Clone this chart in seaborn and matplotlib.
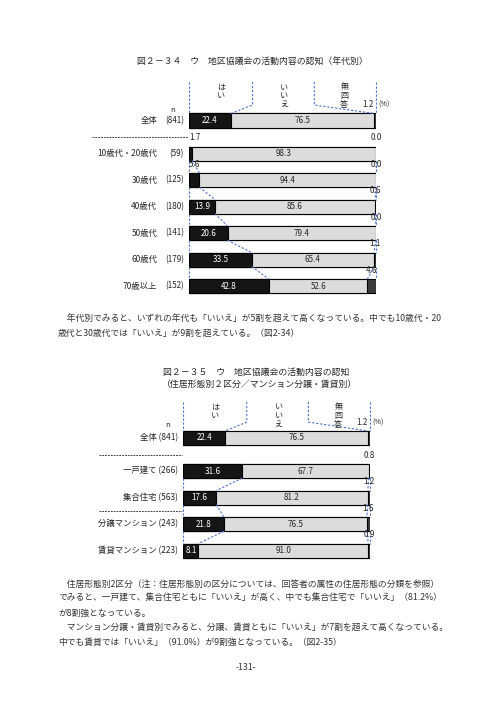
import numpy as np
import pandas as pd
import seaborn as sns
import matplotlib.pyplot as plt

# 図2-34 年代別
age_labels = ["全体", "10歳代・20歳代", "30歳代", "40歳代", "50歳代", "60歳代", "70歳以上"]
age_n = ["(841)", "(59)", "(125)", "(180)", "(141)", "(179)", "(152)"]
age_yes = [22.4, 1.7, 5.6, 13.9, 20.6, 33.5, 42.8]
age_no = [76.5, 98.3, 94.4, 85.6, 79.4, 65.4, 52.6]
age_na = [1.2, 0.0, 0.0, 0.6, 0.0, 1.1, 4.6]

# 図2-35 住居形態別
house_labels = ["全体", "一戸建て", "集合住宅", "分譲マンション", "賃貸マンション"]
house_n = ["(841)", "(266)", "(563)", "(243)", "(223)"]
house_yes = [22.4, 31.6, 17.6, 21.8, 8.1]
house_no = [76.5, 67.7, 81.2, 76.5, 91.0]
house_na = [1.2, 0.8, 1.2, 1.6, 0.9]

answers = ["はい", "いいえ", "無回答"]

title1 = "図２－３４　ウ　地区協議会の活動内容の認知（年代別）"
title2 = ["図２－３５　ウ　地区協議会の活動内容の認知", "（住居形態別２区分／マンション分譲・賃貸別）"]

para1 = [
    "　年代別でみると、いずれの年代も「いいえ」が5割を超えて高くなっている。中でも10歳代・20",
    "歳代と30歳代では「いいえ」が9割を超えている。（図2-34）",
]
para2 = [
    "　住居形態別2区分（注：住居形態別の区分については、回答者の属性の住居形態の分類を参照）",
    "でみると、一戸建て、集合住宅ともに「いいえ」が高く、中でも集合住宅で「いいえ」（81.2%）",
    "が8割強となっている。",
    "　マンション分譲・賃貸別でみると、分譲、賃貸ともに「いいえ」が7割を超えて高くなっている。",
    "中でも賃貸では「いいえ」（91.0%）が9割強となっている。（図2-35）",
]
page_no = "-131-"

W, H = 496, 702
BLACK = "#151515"
GRAY = "#dcdcdc"
DARK = "#3c3c3c"
BLUE = "#4d72cf"
ROW = 26.5   # px per row unit
BAR_H = 0.53


def ftext(fig, x, y, s, **kw):
    fig.text(x / W, 1 - y / H, s, **kw)


def make_ax(fig, x0, x1, y_top, y_bot, y_row0):
    ax = fig.add_axes([x0 / W, 1 - y_bot / H, (x1 - x0) / W, (y_bot - y_top) / H])
    ax.set_xlim(0, 100)
    ax.set_ylim((y_bot - y_row0) / ROW, (y_top - y_row0) / ROW)
    return ax


def draw_chart(ax, labels, ns, yes, no, na, combined, seps, head_top, head_brk,
               sep_x0, n_pos):
    pos = [0.0] + [1.25 + i for i in range(len(labels) - 1)]
    df = pd.DataFrame({"label": labels, "pos": pos, "yes": yes, "no": no, "na": na})
    df["c1"] = df["yes"]
    df["c2"] = df["yes"] + df["no"]
    df["c3"] = df["c2"] + df["na"]

    # stacked bars drawn as overlapping cumulative totals
    for col, colr in [("c3", DARK), ("c2", GRAY), ("c1", BLACK)]:
        sns.barplot(data=df, x=col, y="pos", orient="h", native_scale=True,
                    color=colr, saturation=1, edgecolor="black", linewidth=0.8,
                    width=BAR_H, errorbar=None, ax=ax)

    ylo, yhi = ax.get_ylim()
    ax.set_xlim(0, 100)
    ax.set_ylim(ylo, yhi)
    ax.axis("off")

    fs = 5.8
    h2 = BAR_H / 2
    for i, r in df.iterrows():
        y = r["pos"]
        if r["yes"] >= 8:
            ax.text(r["yes"] / 2, y, f"{r['yes']:.1f}", color="white", fontsize=fs,
                    ha="center", va="center")
        else:
            ax.text(0, y - 0.6, f"{r['yes']:.1f}", fontsize=fs, ha="left", va="center",
                    clip_on=False)
        ax.text(r["yes"] + r["no"] / 2, y, f"{r['no']:.1f}", fontsize=fs,
                ha="center", va="center")
        if i == 0:
            ax.text(98.5, y - 0.6, f"{r['na']:.1f}", fontsize=fs, ha="right", va="center")
            ax.text(101.5, y - 0.6, "(%)", fontsize=fs - 0.6, ha="left", va="center",
                    clip_on=False)
        else:
            ax.text(r["c2"] + r["na"] / 2, y - 0.6, f"{r['na']:.1f}", fontsize=fs,
                    ha="center", va="center", clip_on=False)
        # row labels
        if combined:
            ax.text(-2.8, y, f"{r['label']} {ns[i]}", fontsize=6.0, ha="right",
                    va="center", clip_on=False)
        else:
            ax.text(-17, y, r["label"], fontsize=6.0, ha="right", va="center",
                    clip_on=False)
            ax.text(-2.7, y, ns[i], fontsize=5.8, ha="right", va="center",
                    clip_on=False)
    ax.text(n_pos[0], n_pos[1], "n", fontsize=5.6, ha="center", va="center",
            clip_on=False)

    dash = dict(color=BLUE, lw=0.8, ls=(0, (2, 1.6)), clip_on=False)
    # header columns and leaders to the total bar
    r0 = df.iloc[0]
    ax.plot([0, 0], [head_top, -h2], **dash)
    ax.plot([100, 100], [head_top, -h2], **dash)
    ax.plot([34, 34, r0["c1"]], [head_top, head_brk, -h2], **dash)
    ax.plot([67, 67, r0["c2"]], [head_top, head_brk, -h2], **dash)
    for xc, s in zip([17, 51, 83], answers):
        ax.text(xc, head_top + 0.02, "\n".join(s), fontsize=5.8, ha="center",
                va="top", linespacing=0.95, clip_on=False)

    # connectors between consecutive rows (skipping 全体)
    for i in range(1, len(df) - 1):
        a, b = df.iloc[i], df.iloc[i + 1]
        for xa, xb in [(0, 0), (a["c1"], b["c1"]), (a["c2"], b["c2"]), (100, 100)]:
            ax.plot([xa, xb], [a["pos"] + h2, b["pos"] - h2], **dash)

    # black dashed separators left of the bars
    for k in seps:
        ys = (pos[k] + pos[k + 1]) / 2
        ax.plot([sep_x0, -0.5], [ys, ys], color="#222222", lw=0.6,
                ls=(0, (2.2, 1.2)), clip_on=False)


sns.set_style("white")
plt.rcParams["font.family"] = ["Noto Sans CJK JP", "DejaVu Sans"]

fig = plt.figure(figsize=(W / 100, H / 100), dpi=100)

# chart 1
ftext(fig, 252, 62, title1, fontsize=6.4, ha="center", va="center")
ax1 = make_ax(fig, 189, 376, 75, 300, 120.5)
draw_chart(ax1, age_labels, age_n, age_yes, age_no, age_na, False, [0],
           head_top=-1.45, head_brk=-0.585, sep_x0=-52, n_pos=(-8.7, -0.4))

for k, line in enumerate(para1):
    ftext(fig, 58, 319 + 14 * k, line, fontsize=6.3, color="#333333",
          ha="left", va="center")

# chart 2
ftext(fig, 256, 372, title2[0], fontsize=6.4, ha="center", va="center")
ftext(fig, 260, 384, title2[1], fontsize=6.4, ha="center", va="center")
ax2 = make_ax(fig, 183.3, 370, 395, 565, 438)
draw_chart(ax2, house_labels, house_n, house_yes, house_no, house_na, True, [0, 2],
           head_top=-1.36, head_brk=-0.6, sep_x0=-45, n_pos=(-8.2, -0.49))

for k, line in enumerate(para2):
    ftext(fig, 58, 584 + 14.5 * k, line, fontsize=6.3, color="#333333",
          ha="left", va="center")

ftext(fig, 246, 668, page_no, fontsize=6.3, color="#333333", ha="center", va="center")

fig.savefig("out.png", dpi=100)
plt.close()
